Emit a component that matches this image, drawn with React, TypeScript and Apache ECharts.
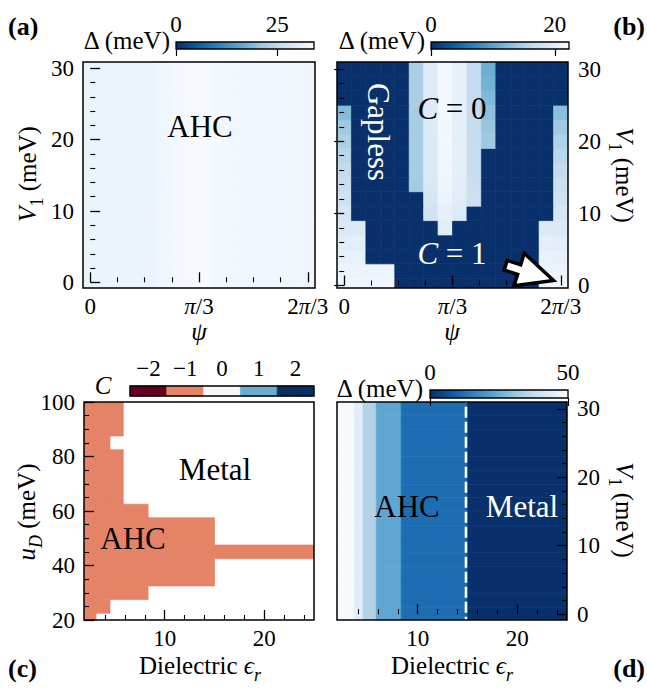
import React, { useEffect, useRef } from "react";
import * as echarts from "echarts";

const FONT = "'Liberation Serif', 'DejaVu Serif', serif";

// ---------- data ----------
// (a),(b): twist angle psi (degrees) and V1 (meV) grids
const psiDeg = [0, 8, 16, 24, 32, 40, 48, 56, 64, 72, 80, 88, 96, 104, 112, 120];
const v1Grid = [0, 2, 4, 6, 8, 10, 12, 14, 16, 18, 20, 22, 24, 26, 28, 30];

// (a) gap (meV) per psi column, same for every V1
const gapA = [32.0, 32.0, 32.0, 32.0, 32.1, 32.8, 33.2, 33.7, 33.8, 33.4, 33.1, 32.9, 32.8, 32.8, 32.7, 32.6];

// (b) gap (meV); rows from V1 = 30 (top) down to V1 = 0, columns psi = 0 .. 120
const gapBTopDown = [
  [0, 0, 0, 0, 0, 14.8, 19.6, 21.8, 20.3, 16.7, 11.2, 0, 0, 0, 0, 0],
  [0, 0, 0, 0, 0, 14.8, 19.6, 21.8, 20.3, 16.7, 11.5, 0, 0, 0, 0, 0],
  [0, 0, 0, 0, 0, 14.7, 19.5, 21.7, 20.3, 16.7, 12.3, 0, 0, 0, 0, 0],
  [12.5, 0, 0, 0, 0, 14.6, 19.5, 21.7, 20.2, 16.8, 13.0, 0, 0, 0, 0, 12.8],
  [14.0, 0, 0, 0, 0, 14.5, 19.4, 21.6, 20.2, 16.8, 13.6, 0, 0, 0, 0, 14.0],
  [15.0, 0, 0, 0, 0, 14.5, 19.3, 21.6, 20.1, 16.9, 13.9, 0, 0, 0, 0, 15.1],
  [15.9, 0, 0, 0, 0, 14.4, 19.2, 21.5, 20.1, 17.0, 0, 0, 0, 0, 0, 15.9],
  [16.6, 0, 0, 0, 0, 14.4, 19.1, 21.4, 20.0, 17.1, 0, 0, 0, 0, 0, 16.7],
  [17.3, 0, 0, 0, 0, 14.3, 18.9, 21.2, 19.9, 17.2, 0, 0, 0, 0, 0, 17.4],
  [18.0, 0, 0, 0, 0, 0, 18.5, 20.9, 19.7, 17.5, 0, 0, 0, 0, 0, 18.0],
  [18.6, 0, 0, 0, 0, 0, 18.0, 20.4, 19.4, 0, 0, 0, 0, 0, 0, 18.6],
  [19.2, 19.3, 0, 0, 0, 0, 0, 19.8, 0, 0, 0, 0, 0, 0, 19.3, 19.2],
  [19.8, 20.0, 0, 0, 0, 0, 0, 0, 0, 0, 0, 0, 0, 0, 20.0, 19.8],
  [20.4, 20.5, 0, 0, 0, 0, 0, 0, 0, 0, 0, 0, 0, 0, 20.5, 20.4],
  [21.0, 21.0, 21.0, 21.1, 0, 0, 0, 0, 0, 0, 0, 0, 0, 0, 21.0, 21.0],
  [21.5, 21.6, 21.5, 21.6, 0, 0, 0, 0, 0, 0, 0, 0, 0, 0, 21.5, 21.5],
];

// (c),(d): dielectric constant grid and u_D grid
const epsValues = [2, 2.222, 2.5, 2.857, 3.333, 4, 5, 6.667, 10, 20];
const uDGrid = [20, 25, 30, 35, 40, 45, 50, 55, 60, 65, 70, 75, 80, 85, 90, 95, 100];

// (c) Chern number; rows u_D = 20 .. 100, columns eps as above; null = metal
const N = null;
const chernC: (number | null)[][] = [
  [-1, -1, -1, -1, N, N, N, N, N, N], // 20
  [-1, -1, -1, -1, -1, -1, N, N, N, N], // 25
  [-1, -1, -1, -1, -1, -1, -1, -1, N, N], // 30
  [-1, -1, -1, -1, -1, -1, -1, -1, -1, N], // 35
  [-1, -1, -1, -1, -1, -1, -1, -1, -1, N], // 40
  [-1, -1, -1, -1, -1, -1, -1, -1, -1, -1], // 45
  [-1, -1, -1, -1, -1, -1, -1, -1, -1, N], // 50
  [-1, -1, -1, -1, -1, -1, -1, -1, -1, N], // 55
  [-1, -1, -1, -1, -1, -1, -1, -1, N, N], // 60
  [-1, -1, -1, -1, -1, -1, -1, N, N, N], // 65
  [-1, -1, -1, -1, -1, -1, -1, N, N, N], // 70
  [-1, -1, -1, -1, -1, -1, -1, N, N, N], // 75
  [-1, -1, -1, -1, -1, -1, -1, N, N, N], // 80
  [-1, -1, -1, -1, -1, -1, N, N, N, N], // 85
  [-1, -1, -1, -1, -1, -1, -1, N, N, N], // 90
  [-1, -1, -1, -1, -1, -1, -1, N, N, N], // 95
  [-1, -1, -1, -1, -1, -1, -1, N, N, N], // 100
];

// (d) gap (meV) per eps column, same for every V1
const gapD = [49.5, 49.5, 49.5, 49.4, 49.2, 44.5, 34.3, 23.3, 11.8, 0];
const metalBoundaryEps = 14.85;

// colour scales
const VMAX_A = 34.1;
const VMAX_B = 22.3;
const VMAX_D = 50;
const cbTicksA = [0, 25];
const cbTicksB = [0, 20];
const cbTicksD = [0, 50];
const cLevels = [-2, -1, 0, 1, 2];
const cColors = ["#67001f", "#e58367", "#f7f7f7", "#6bacd0", "#053061"];
const BLUES_R = ["#08306b", "#08519c", "#2171b5", "#4292c6", "#6baed6", "#9ecae1", "#c6dbef", "#deebf7", "#f7fbff"];

// annotation arrow in (b): tail and tip (psi deg, V1 meV)
const arrowTail = [89.5, 2.8];
const arrowTip = [116, 0.7];

// ---------- helpers ----------
function cellEdges(vals: number[]): number[] {
  const n = vals.length;
  const e: number[] = [vals[0] - (vals[1] - vals[0]) / 2];
  for (let i = 0; i < n - 1; i++) e.push((vals[i] + vals[i + 1]) / 2);
  e.push(vals[n - 1] + (vals[n - 1] - vals[n - 2]) / 2);
  return e;
}

const psiE = cellEdges(psiDeg);
const v1E = cellEdges(v1Grid);
const epsE = cellEdges(epsValues);
const uE = cellEdges(uDGrid);

const cellsA: number[][] = [];
v1Grid.forEach((_, r) => psiDeg.forEach((_, c) => cellsA.push([psiE[c], psiE[c + 1], v1E[r], v1E[r + 1], gapA[c]])));
const cellsB: number[][] = [];
v1Grid.forEach((_, r) =>
  psiDeg.forEach((_, c) => cellsB.push([psiE[c], psiE[c + 1], v1E[r], v1E[r + 1], gapBTopDown[v1Grid.length - 1 - r][c]]))
);
const cellsC: number[][] = [];
uDGrid.forEach((_, r) =>
  epsValues.forEach((_, c) => {
    const v = chernC[r][c];
    if (v !== null) cellsC.push([epsE[c], epsE[c + 1], uE[r], uE[r + 1], v]);
  })
);
const cellsD: number[][] = [];
v1Grid.forEach((_, r) => epsValues.forEach((_, c) => cellsD.push([epsE[c], epsE[c + 1], v1E[r], v1E[r + 1], gapD[c]])));

const cellRender = (_p: any, api: any) => {
  const a = api.coord([api.value(0), api.value(3)]);
  const b = api.coord([api.value(1), api.value(2)]);
  const color = api.visual("color");
  return {
    type: "rect",
    shape: { x: a[0], y: a[1], width: b[0] - a[0], height: b[1] - a[1] },
    style: { fill: color, stroke: color, lineWidth: 0.7 },
  };
};

const gradRender = (_p: any, api: any) => {
  const a = api.coord([api.value(0), 1]);
  const b = api.coord([api.value(1), 0]);
  return {
    type: "rect",
    shape: { x: a[0], y: a[1], width: b[0] - a[0], height: b[1] - a[1] },
    style: {
      fill: {
        type: "linear",
        x: 0, y: 0, x2: 1, y2: 0,
        colorStops: BLUES_R.map((c, i) => ({ offset: i / (BLUES_R.length - 1), color: c })),
      },
    },
  };
};

const arrowRender = (_p: any, api: any) => {
  const t = api.coord([api.value(0), api.value(1)]);
  const h = api.coord([api.value(2), api.value(3)]);
  const dx = h[0] - t[0];
  const dy = h[1] - t[1];
  const L = Math.hypot(dx, dy);
  const ux = dx / L, uy = dy / L;
  const nx = -uy, ny = ux;
  const headLen = 0.72 * L, hw = 17, sw = 5;
  const bx = h[0] - ux * headLen, by = h[1] - uy * headLen;
  const pts = [
    [t[0] + nx * sw, t[1] + ny * sw],
    [bx + nx * sw, by + ny * sw],
    [bx + nx * hw, by + ny * hw],
    [h[0], h[1]],
    [bx - nx * hw, by - ny * hw],
    [bx - nx * sw, by - ny * sw],
    [t[0] - nx * sw, t[1] - ny * sw],
  ];
  return { type: "polygon", shape: { points: pts }, style: { fill: "#fff", stroke: "#000", lineWidth: 3.5, lineJoin: "miter" } };
};

const TICK_FS = 23;
const labelRich = { i: { fontStyle: "italic", fontFamily: FONT, fontSize: TICK_FS, color: "#000" } };

function axisPair(gridIndex: number, min: number, max: number, majors: number[], minors: number[], position: string, formatter?: any, margin = 8) {
  const common: any = { type: "value", gridIndex, min, max, position, z: 10, splitLine: { show: false }, axisLine: { show: false } };
  return [
    {
      ...common,
      axisTick: { show: true, inside: true, length: 10, customValues: majors, lineStyle: { color: "#000", width: 1.3 } },
      axisLabel: { show: true, customValues: majors, formatter, margin, color: "#000", fontFamily: FONT, fontSize: TICK_FS, rich: labelRich },
    },
    {
      ...common,
      axisTick: { show: true, inside: true, length: 5, customValues: minors, lineStyle: { color: "#000", width: 1.1 } },
      axisLabel: { show: false },
    },
  ];
}

function cbAxis(gridIndex: number, min: number, max: number, ticks: number[], tickLen: number, formatter?: any, margin = 6, tickColor = "#000") {
  return {
    type: "value", gridIndex, min, max, position: "top", z: 10,
    splitLine: { show: false }, axisLine: { show: false },
    axisTick: { show: true, inside: true, length: tickLen, customValues: ticks, lineStyle: { color: tickColor, width: 1.2 } },
    axisLabel: { show: true, customValues: ticks, formatter, margin, color: "#000", fontFamily: FONT, fontSize: TICK_FS },
  };
}

const psiFmt = (v: number) => (v === 0 ? "0" : v === 60 ? "{i|π}/3" : "2{i|π}/3");
const minusFmt = (v: number) => (v < 0 ? "\u2212" + Math.abs(v) : String(v));

const GRIDS = {
  a: { left: 83, top: 62, width: 232, height: 226 },
  b: { left: 337, top: 62, width: 231, height: 226 },
  c: { left: 84, top: 402, width: 230, height: 218 },
  d: { left: 337, top: 402, width: 230, height: 218 },
  cbA: { left: 176, top: 42, width: 138, height: 7 },
  cbB: { left: 431, top: 42, width: 138, height: 7 },
  cbC: { left: 130, top: 386, width: 184, height: 10 },
  cbD: { left: 430, top: 390, width: 138, height: 8 },
};

function rich(size: number, color: string) {
  const base = { fontFamily: FONT, fontSize: size, fill: color, verticalAlign: "bottom", padding: [0, 0, Math.round(size * 0.22), 0] };
  const sub = { fontFamily: FONT, fontSize: Math.round(size * 0.7), fill: color, verticalAlign: "bottom", padding: [0, 0, 0, 0] };
  return {
    n: base,
    i: { ...base, fontStyle: "italic" },
    s: sub,
    si: { ...sub, fontStyle: "italic" },
  };
}

function txt(x: number, y: number, text: string, o: any = {}) {
  const size = o.size || 25;
  const color = o.color || "#000";
  return {
    type: "text",
    x, y, z: 70,
    rotation: o.rotation || 0,
    silent: true,
    style: {
      text,
      fill: color,
      fontFamily: FONT,
      fontSize: size,
      fontWeight: o.bold ? "bold" : "normal",
      fontStyle: o.italic ? "italic" : "normal",
      align: o.align || "center",
      verticalAlign: "middle",
      rich: rich(size, color),
    },
  };
}

function frame(g: any, lw = 1.5) {
  return { type: "rect", z: 50, silent: true, shape: { x: g.left, y: g.top, width: g.width, height: g.height }, style: { fill: "none", stroke: "#000", lineWidth: lw } };
}

function buildOption(): any {
  const gridList = [GRIDS.a, GRIDS.b, GRIDS.c, GRIDS.d, GRIDS.cbA, GRIDS.cbB, GRIDS.cbC, GRIDS.cbD].map((g) => ({ ...g, containLabel: false }));

  const vMinor = [2, 4, 6, 8, 12, 14, 16, 18, 22, 24, 26, 28];
  const psiMinor = [15, 30, 45, 75, 90, 105];
  const epsMinor = [4, 6, 8, 12, 14, 16, 18, 22, 24];
  const uMinor = [25, 30, 35, 45, 50, 55, 65, 70, 75, 85, 90, 95];

  const xAxis = [
    ...axisPair(0, psiE[0], psiE[psiE.length - 1], [0, 60, 120], psiMinor, "bottom", psiFmt, 7),
    ...axisPair(1, psiE[0], psiE[psiE.length - 1], [0, 60, 120], psiMinor, "bottom", psiFmt, 7),
    ...axisPair(2, epsE[0], epsE[epsE.length - 1], [10, 20], epsMinor, "bottom", undefined, 7),
    ...axisPair(3, epsE[0], epsE[epsE.length - 1], [10, 20], epsMinor, "bottom", undefined, 7),
    cbAxis(4, 0, VMAX_A, cbTicksA, 7),
    cbAxis(5, 0, VMAX_B, cbTicksB, 7),
    cbAxis(6, -2.5, 2.5, cLevels, 10, minusFmt, 6, "rgba(255,255,255,0.5)"),
    cbAxis(7, 0, VMAX_D, cbTicksD, 8),
  ];
  const hiddenY = (gi: number) => ({ type: "value", gridIndex: gi, min: 0, max: 1, show: false });
  const yAxis = [
    ...axisPair(0, -0.8, 30.9, [0, 10, 20, 30], vMinor, "left", undefined, 9),
    ...axisPair(1, -0.35, 31, [0, 10, 20, 30], vMinor, "right", undefined, 10),
    ...axisPair(2, 20, 100, [20, 40, 60, 80, 100], uMinor, "left", undefined, 9),
    ...axisPair(3, -0.85, 31, [0, 10, 20, 30], vMinor, "right", undefined, 10),
    hiddenY(4), hiddenY(5), hiddenY(6), hiddenY(7),
  ];

  const cellSeries = (data: number[][], axisIdx: number) => ({
    type: "custom",
    xAxisIndex: axisIdx,
    yAxisIndex: axisIdx,
    renderItem: cellRender,
    clip: true,
    silent: true,
    z: 2,
    dimensions: ["x0", "x1", "y0", "y1", "v"],
    encode: { x: [0, 1], y: [2, 3] },
    data,
  });

  const series: any[] = [
    cellSeries(cellsA, 0),
    cellSeries(cellsB, 2),
    cellSeries(cellsC, 4),
    cellSeries(cellsD, 6),
    { type: "custom", xAxisIndex: 8, yAxisIndex: 8, renderItem: gradRender, silent: true, encode: { x: [0, 1] }, data: [[0, VMAX_A]] },
    { type: "custom", xAxisIndex: 9, yAxisIndex: 9, renderItem: gradRender, silent: true, encode: { x: [0, 1] }, data: [[0, VMAX_B]] },
    {
      type: "custom", xAxisIndex: 10, yAxisIndex: 10, renderItem: cellRender, silent: true,
      dimensions: ["x0", "x1", "y0", "y1", "v"], encode: { x: [0, 1], y: [2, 3] },
      data: cLevels.map((l) => [l - 0.5, l + 0.5, 0, 1, l]),
    },
    { type: "custom", xAxisIndex: 11, yAxisIndex: 11, renderItem: gradRender, silent: true, encode: { x: [0, 1] }, data: [[0, VMAX_D]] },
    {
      type: "custom", xAxisIndex: 2, yAxisIndex: 2, renderItem: arrowRender, silent: true, clip: false, z: 60,
      encode: { x: [0, 2], y: [1, 3] },
      data: [[arrowTail[0], arrowTail[1], arrowTip[0], arrowTip[1]]],
    },
    {
      type: "line", xAxisIndex: 6, yAxisIndex: 6, silent: true, symbol: "none", clip: true, z: 5,
      lineStyle: { color: "#fff", width: 2.6, type: [11, 4] },
      data: [[metalBoundaryEps, -2], [metalBoundaryEps, 32]],
    },
  ];

  const visualMap = [
    { type: "continuous", show: false, seriesIndex: 0, dimension: 4, min: 0, max: VMAX_A, inRange: { color: BLUES_R } },
    { type: "continuous", show: false, seriesIndex: 1, dimension: 4, min: 0, max: VMAX_B, inRange: { color: BLUES_R } },
    { type: "piecewise", show: false, seriesIndex: [2, 6], dimension: 4, pieces: cLevels.map((v, i) => ({ value: v, color: cColors[i] })) },
    { type: "continuous", show: false, seriesIndex: 3, dimension: 4, min: 0, max: VMAX_D, inRange: { color: BLUES_R } },
  ];

  const V1LABEL = "{i|V}{s|1}{n| (meV)}";
  const EPSLABEL = "{n|Dielectric }{i|ϵ}{si|r}";
  const graphic = [
    frame(GRIDS.a), frame(GRIDS.b), frame(GRIDS.c), frame(GRIDS.d),
    frame(GRIDS.cbA, 1.3), frame(GRIDS.cbB, 1.3), frame(GRIDS.cbC, 1.3), frame(GRIDS.cbD, 1.3),
    txt(8, 26, "(a)", { bold: true, align: "left", size: 26 }),
    txt(645, 26, "(b)", { bold: true, align: "right", size: 26 }),
    txt(8, 668, "(c)", { bold: true, align: "left", size: 26 }),
    txt(645, 668, "(d)", { bold: true, align: "right", size: 26 }),
    txt(170, 43, "{n|Δ (meV)}", { align: "right" }),
    txt(425, 43, "{n|Δ (meV)}", { align: "right" }),
    txt(423, 391, "{n|Δ (meV)}", { align: "right" }),
    txt(103, 388, "{i|C}"),
    txt(199, 334, "{i|ψ}"),
    txt(452, 334, "{i|ψ}"),
    txt(30, 174, V1LABEL, { rotation: Math.PI / 2 }),
    txt(621, 175, V1LABEL, { rotation: -Math.PI / 2 }),
    txt(621, 510, V1LABEL, { rotation: -Math.PI / 2 }),
    txt(29, 512, "{i|u}{si|D}{n| (meV)}", { rotation: Math.PI / 2 }),
    txt(200, 668, EPSLABEL),
    txt(452, 668, EPSLABEL),
    txt(200, 130, "{n|AHC}", { size: 31 }),
    txt(375, 132, "{n|Gapless}", { size: 31, color: "#fff", rotation: -Math.PI / 2 }),
    txt(452, 112, "{i|C}{n| = 0}", { size: 31 }),
    txt(452, 257, "{i|C}{n| = 1}", { size: 31, color: "#fff" }),
    txt(133, 542, "{n|AHC}", { size: 31 }),
    txt(215, 473, "{n|Metal}", { size: 31 }),
    txt(407, 510, "{n|AHC}", { size: 31 }),
    txt(522, 510, "{n|Metal}", { size: 31, color: "#fff" }),
  ];

  return {
    animation: false,
    backgroundColor: "#fff",
    textStyle: { fontFamily: FONT },
    grid: gridList,
    xAxis,
    yAxis,
    visualMap,
    series,
    graphic,
  };
}

export default function App() {
  const ref = useRef<HTMLDivElement>(null);
  useEffect(() => {
    const chart = echarts.init(ref.current!, null, { renderer: "svg" });
    chart.setOption(buildOption());
    return () => chart.dispose();
  }, []);
  return <div ref={ref} style={{ position: "absolute", left: 0, top: 0, width: 647, height: 689, background: "#fff" }} />;
}
